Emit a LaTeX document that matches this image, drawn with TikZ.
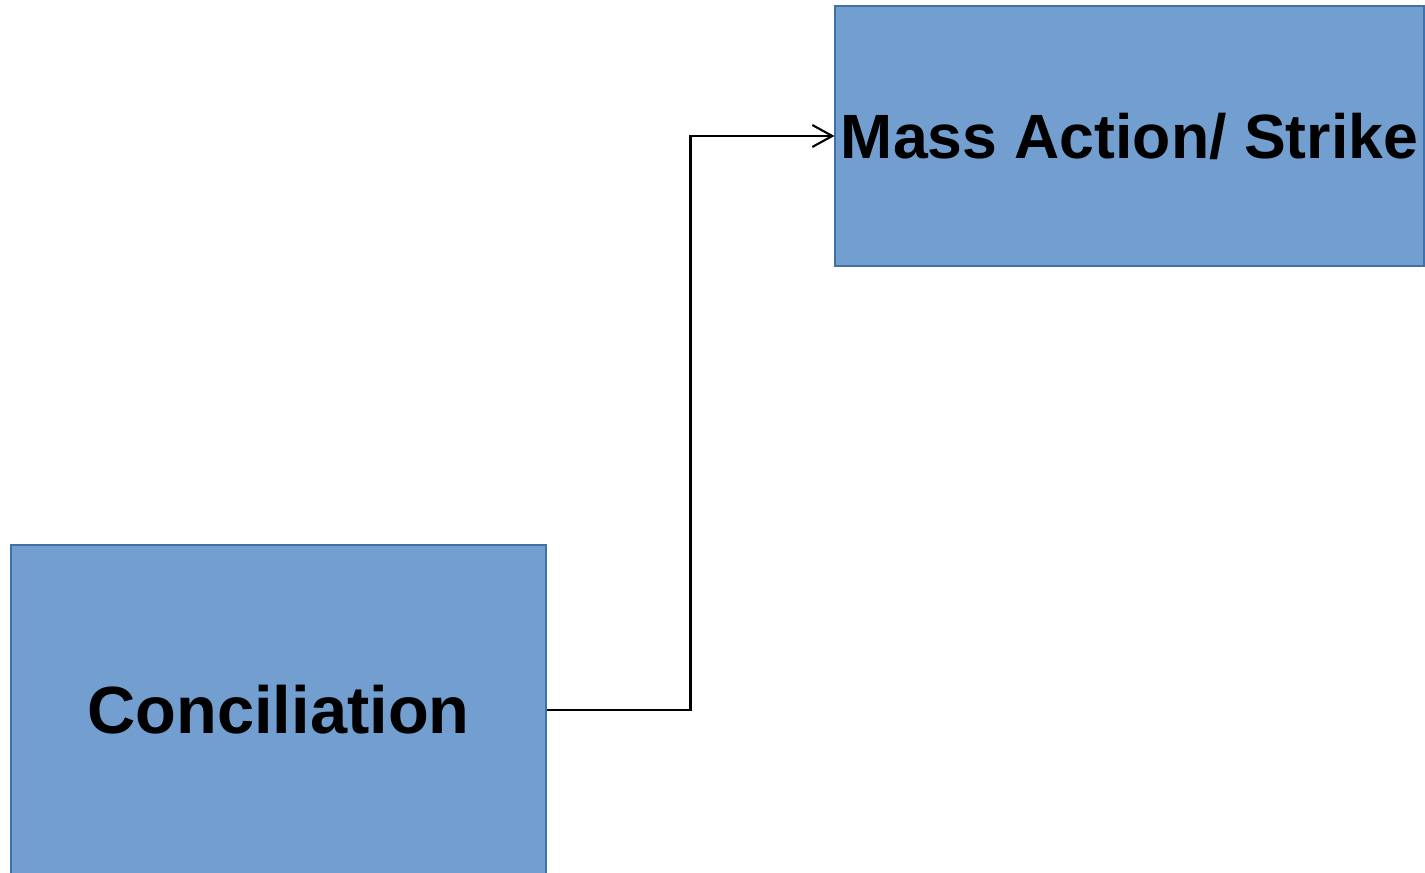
\documentclass[tikz,border=0pt]{standalone}
\usepackage{fontspec}
\setmainfont{Liberation Sans}
\usetikzlibrary{arrows.meta}

\definecolor{boxblue}{RGB}{114,159,207}
\definecolor{edgeblue}{RGB}{65,113,170}

\begin{document}
\begin{tikzpicture}[stage/.style={draw=edgeblue, line width=0.6pt, fill=boxblue, inner sep=0pt, font=\bfseries\fontsize{38}{45}\selectfont}]

\useasboundingbox (0,0) rectangle (28.5,17.44);

\node[stage, minimum width=10.7cm, minimum height=6.6cm] (con) at (5.57,3.24) {Conciliation};
\node[stage, minimum width=11.78cm, minimum height=5.2cm, font=\bfseries\fontsize{35.6}{42}\selectfont] (mass) at (22.59,14.72) {Mass Action/ Strike};

\draw[-{Straight Barb[length=0.4cm,width=0.44cm]}, line width=1.2pt] (con.east) -- ++(2.88,0) |- (mass.west);

\end{tikzpicture}
\end{document}
